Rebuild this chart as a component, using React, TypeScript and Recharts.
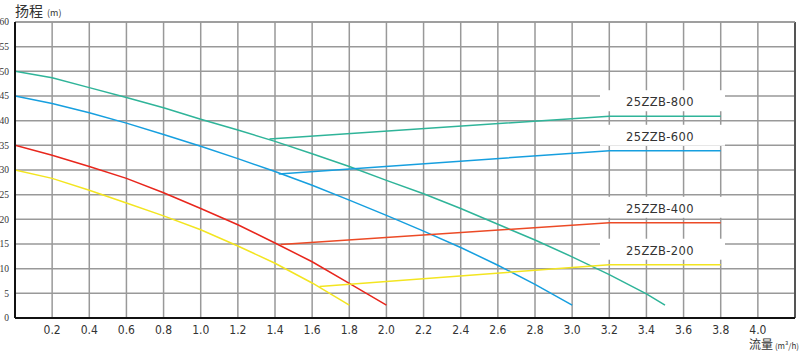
import React from 'react';
import { LineChart, Line, XAxis, YAxis, CartesianGrid, LabelList, ReferenceLine } from 'recharts';

// pump head curves (flow m3/h -> head m)
const flow800 = [0, 0.2, 0.4, 0.6, 0.8, 1.0, 1.2, 1.4, 1.6, 1.8, 2.0, 2.2, 2.4, 2.6, 2.8, 3.0, 3.2, 3.4, 3.5];
const head800 = [50, 48.7, 46.7, 44.7, 42.6, 40.3, 38.1, 35.8, 33.3, 30.7, 27.9, 25.2, 22.2, 19.0, 15.8, 12.4, 8.8, 4.9, 2.6];

const flow600 = [0, 0.2, 0.4, 0.6, 0.8, 1.0, 1.2, 1.4, 1.6, 1.8, 2.0, 2.2, 2.4, 2.6, 2.8, 3.0];
const head600 = [45, 43.5, 41.6, 39.5, 37.2, 34.8, 32.3, 29.7, 26.9, 23.9, 20.8, 17.6, 14.3, 10.7, 6.8, 2.6];

const flow400 = [0, 0.2, 0.4, 0.6, 0.8, 1.0, 1.2, 1.4, 1.6, 1.8, 2.0];
const head400 = [35, 33, 30.7, 28.3, 25.4, 22.2, 18.9, 15.2, 11.4, 7.0, 2.6];

const flow200 = [0, 0.2, 0.4, 0.6, 0.8, 1.0, 1.2, 1.4, 1.6, 1.8];
const head200 = [30, 28.3, 25.9, 23.3, 20.7, 17.9, 14.6, 11.1, 7.1, 2.6];

// operating range lines
const opFlow800 = [1.37, 3.2, 3.5, 3.8];
const opHead800 = [36.3, 40.9, 40.9, 40.9];
const opFlow600 = [1.42, 3.2, 3.5, 3.8];
const opHead600 = [29.2, 33.9, 33.9, 33.9];
const opFlow400 = [1.43, 3.2, 3.5, 3.8];
const opHead400 = [14.9, 19.3, 19.3, 19.3];
const opFlow200 = [1.64, 3.2, 3.5, 3.8];
const opHead200 = [6.4, 10.8, 10.8, 10.8];

const models = ['25ZZB-800', '25ZZB-600', '25ZZB-400', '25ZZB-200'];

const xTicks = [0.2, 0.4, 0.6, 0.8, 1.0, 1.2, 1.4, 1.6, 1.8, 2.0, 2.2, 2.4, 2.6, 2.8, 3.0, 3.2, 3.4, 3.6, 3.8, 4.0];
const yTicks = [0, 5, 10, 15, 20, 25, 30, 35, 40, 45, 50, 55, 60];

const toPoints = (xs: number[], ys: number[]) => xs.map((x, i) => ({ x, y: ys[i] }));

const curves = [
    { data: toPoints(flow800, head800), color: '#2fb499' },
    { data: toPoints(flow600, head600), color: '#169fdf' },
    { data: toPoints(flow400, head400), color: '#e8261c' },
    { data: toPoints(flow200, head200), color: '#f3e520' },
];

const opLines = [
    { data: toPoints(opFlow800, opHead800), color: '#2fb499', name: models[0] },
    { data: toPoints(opFlow600, opHead600), color: '#169fdf', name: models[1] },
    { data: toPoints(opFlow400, opHead400), color: '#ec4a26', name: models[2] },
    { data: toPoints(opFlow200, opHead200), color: '#f3e520', name: models[3] },
];

const makeLabel = (name: string) => (props: any) => {
    const { x, y, index } = props;
    if (index !== 2) return null;
    return (
        <g>
            <rect x={x - 65} y={y - 26} width={125} height={21} fill="#fff" />
            <text x={x - 5} y={y - 10} textAnchor="middle" fontSize={11.5} fill="#333"
                fontFamily="'DejaVu Sans', sans-serif" letterSpacing={0.4}>
                {name}
            </text>
        </g>
    );
};

export default function App() {
    return (
        <div style={{ position: 'absolute', left: 0, top: 0, width: 800, height: 351, background: '#fff', overflow: 'hidden' }}>
            <LineChart width={800} height={351} margin={{ top: 22, right: 5, left: 0, bottom: 0 }}>
                <CartesianGrid stroke="#999" strokeWidth={1.5} />
                <XAxis
                    type="number"
                    dataKey="x"
                    domain={[0, 4.2]}
                    ticks={xTicks}
                    height={33}
                    allowDataOverflow
                    axisLine={{ stroke: '#111', strokeWidth: 2 }}
                    tickLine={false}
                    tickMargin={1}
                    tickFormatter={(v: number) => v.toFixed(1)}
                    tick={{ fontSize: 12, fill: '#333', fontFamily: "'Liberation Sans Narrow', 'DejaVu Sans Condensed', sans-serif" }}
                />
                <YAxis
                    type="number"
                    domain={[0, 60]}
                    ticks={yTicks}
                    width={15}
                    axisLine={{ stroke: '#111', strokeWidth: 2 }}
                    tickLine={false}
                    tickMargin={0}
                    tick={{ fontSize: 9.5, fill: '#333', fontFamily: "'Liberation Serif', serif" }}
                />
                <ReferenceLine x={4.2} stroke="#555" strokeWidth={2} />
                <ReferenceLine y={60} stroke="#999" strokeWidth={1.5} />
                {curves.map((c, i) => (
                    <Line key={'c' + i} data={c.data} dataKey="y" type="linear" stroke={c.color}
                        strokeWidth={1.5} dot={false} isAnimationActive={false} />
                ))}
                {opLines.map((c, i) => (
                    <Line key={'o' + i} data={c.data} dataKey="y" type="linear" stroke={c.color}
                        strokeWidth={1.5} dot={false} isAnimationActive={false}>
                        <LabelList dataKey="y" content={makeLabel(c.name)} />
                    </Line>
                ))}
            </LineChart>
            <div style={{ position: 'absolute', left: 15, top: 1, lineHeight: 1, fontFamily: "'Noto Sans CJK SC', sans-serif", color: '#333' }}>
                <span style={{ fontSize: 14 }}>扬程</span>
                <span style={{ fontSize: 9, marginLeft: 4 }}>(m)</span>
            </div>
            <div style={{ position: 'absolute', right: 1, top: 334, lineHeight: 1, fontFamily: "'Noto Sans CJK SC', sans-serif", color: '#333', whiteSpace: 'nowrap' }}>
                <span style={{ fontSize: 12 }}>流量</span>
                <span style={{ fontSize: 8, marginLeft: 2 }}>(m³/h)</span>
            </div>
        </div>
    );
}
